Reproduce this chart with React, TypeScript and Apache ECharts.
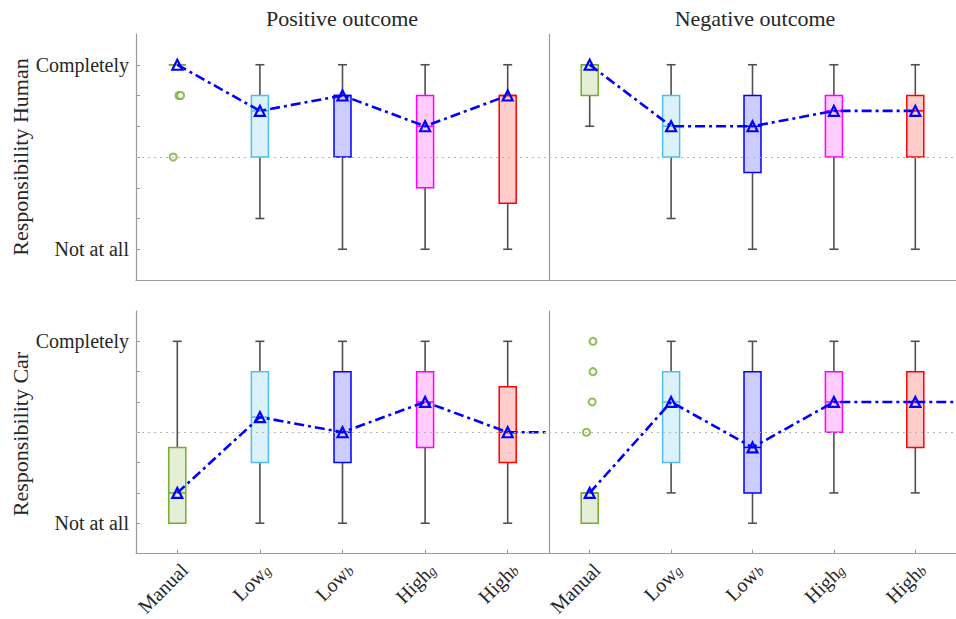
import React, { useEffect, useRef } from "react";
import * as echarts from "echarts";

const categories = ["Manual", "Low_g", "Low_b", "High_g", "High_b"];
const boxColors = ["#77AC30", "#4DBEEE", "#0000FF", "#FF00FF", "#FF0000"];
const boxFills = ["#E4EFD6", "#DBF2FC", "#CCCCFF", "#FFCCFF", "#FFCCCC"];

// [min, q1, median, q3, max] per category
const humanPosStats = [
  [7, 7, 7, 7, 7],
  [2, 4, 5.5, 6, 7],
  [1, 4, 6, 6, 7],
  [1, 3, 5, 6, 7],
  [1, 2.5, 6, 6, 7],
];
const humanNegStats = [
  [5, 6, 7, 7, 7],
  [2, 4, 5, 6, 7],
  [1, 3.5, 5, 6, 7],
  [1, 4, 5.5, 6, 7],
  [1, 4, 5.5, 6, 7],
];
const carPosStats = [
  [1, 1, 2, 3.5, 7],
  [1, 3, 4.5, 6, 7],
  [1, 3, 4, 6, 7],
  [1, 3.5, 5, 6, 7],
  [1, 3, 4, 5.5, 7],
];
const carNegStats = [
  [1, 1, 2, 2, 2],
  [2, 3, 5, 6, 7],
  [1, 2, 3.5, 6, 7],
  [2, 4, 5, 6, 7],
  [2, 3.5, 5, 6, 7],
];

// outliers [x position (category 1..5, jittered), value]
const humanPosOutliers = [[1.02, 6], [1.04, 6], [0.95, 4]];
const humanNegOutliers: number[][] = [];
const carPosOutliers: number[][] = [];
const carNegOutliers = [[1.04, 7], [1.04, 6], [1.03, 5], [0.96, 4]];

// continuation of the median line past the last category
const humanPosTail: number[][] = [];
const humanNegTail: number[][] = [];
const carPosTail = [[5, 4], [5.5, 4]];
const carNegTail = [[5, 5], [5.5, 5]];

const colTitles = ["Positive outcome", "Negative outcome"];
const rowTitles = ["Responsibility Human", "Responsibility Car"];
const yTickLabels: Record<number, string> = { 7: "Completely", 1: "Not at all" };

const FONT = "'Liberation Serif', 'Times New Roman', serif";

const panels = [
  { stats: humanPosStats, outliers: humanPosOutliers, tail: humanPosTail },
  { stats: humanNegStats, outliers: humanNegOutliers, tail: humanNegTail },
  { stats: carPosStats, outliers: carPosOutliers, tail: carPosTail },
  { stats: carNegStats, outliers: carNegOutliers, tail: carNegTail },
];

const grids = [
  { left: 136, top: 34, width: 413, height: 246 },
  { left: 549, top: 34, width: 413, height: 246 },
  { left: 136, top: 311, width: 413, height: 246 },
  { left: 549, top: 311, width: 413, height: 246 },
];

function renderBox(params: any, api: any) {
  const idx = api.value(0);
  const mn = api.value(1);
  const q1 = api.value(2);
  const md = api.value(3);
  const q3 = api.value(4);
  const mx = api.value(5);
  const cx = api.coord([idx, md])[0];
  const y = (v: number) => api.coord([idx, v])[1];
  const bw = 17;
  const cw = 9;
  const color = boxColors[params.dataIndex];
  const fill = boxFills[params.dataIndex];
  const wStyle = { stroke: "#505050", lineWidth: 1.6 };
  const children: any[] = [];
  if (mx > q3) {
    children.push({ type: "line", shape: { x1: cx, y1: y(q3), x2: cx, y2: y(mx) }, style: wStyle });
    children.push({ type: "line", shape: { x1: cx - cw / 2, y1: y(mx), x2: cx + cw / 2, y2: y(mx) }, style: wStyle });
  }
  if (mn < q1) {
    children.push({ type: "line", shape: { x1: cx, y1: y(q1), x2: cx, y2: y(mn) }, style: wStyle });
    children.push({ type: "line", shape: { x1: cx - cw / 2, y1: y(mn), x2: cx + cw / 2, y2: y(mn) }, style: wStyle });
  }
  children.push({
    type: "rect",
    shape: { x: cx - bw / 2, y: y(q3), width: bw, height: y(q1) - y(q3) },
    style: { fill, stroke: color, lineWidth: 1.5 },
  });
  children.push({
    type: "line",
    shape: { x1: cx - bw / 2, y1: y(md), x2: cx + bw / 2, y2: y(md) },
    style: { stroke: color, lineWidth: 1.5 },
  });
  return { type: "group", children };
}

function labelFormatter(v: string) {
  const parts = v.split("_");
  if (parts.length === 2) return `{n|${parts[0]}}{s|${parts[1]}}`;
  return `{n|${v}}`;
}

export default function App() {
  const ref = useRef<HTMLDivElement>(null);
  useEffect(() => {
    if (!ref.current) return;
    const chart = echarts.init(ref.current, null, { renderer: "svg" });
    const xAxis: any[] = [];
    const yAxis: any[] = [];
    const series: any[] = [];
    grids.forEach((_, g) => {
      const isBottom = g >= 2;
      const isLeft = g % 2 === 0;
      xAxis.push({
        type: "category",
        gridIndex: g,
        data: categories,
        axisLine: { lineStyle: { color: "#9a9a9a", width: 1.2 } },
        axisTick: { show: isBottom, inside: true, alignWithLabel: true, length: 4, lineStyle: { color: "#9a9a9a" } },
        axisLabel: isBottom
          ? {
              show: true,
              rotate: 45,
              align: "right",
              verticalAlign: "top",
              margin: 6,
              formatter: labelFormatter,
              rich: {
                n: { fontFamily: FONT, fontSize: 20, color: "#262626", lineHeight: 20, verticalAlign: "top" },
                s: { fontFamily: FONT, fontSize: 14, fontStyle: "italic", color: "#262626", lineHeight: 14, verticalAlign: "bottom" },
              },
            }
          : { show: false },
        splitLine: { show: false },
      });
      xAxis.push({ type: "value", gridIndex: g, min: 0.5, max: 5.5, show: false });
      yAxis.push({
        type: "value",
        gridIndex: g,
        min: 0,
        max: 8,
        axisLine: { show: true, lineStyle: { color: "#9a9a9a", width: 1.2 } },
        axisTick: {
          show: isLeft,
          inside: true,
          length: 4,
          customValues: [1, 2, 3, 4, 5, 6, 7],
          lineStyle: { color: "#9a9a9a" },
        },
        axisLabel: isLeft
          ? {
              show: true,
              customValues: [1, 7],
              margin: 7,
              fontFamily: FONT,
              fontSize: 20,
              color: "#262626",
              formatter: (v: number) => yTickLabels[v] || "",
            }
          : { show: false },
        splitLine: { show: false },
      });
      const p = panels[g];
      // reference dotted line
      series.push({
        type: "line",
        xAxisIndex: 2 * g + 1,
        yAxisIndex: g,
        data: [],
        z: 1,
        markLine: {
          silent: true,
          symbol: ["none", "none"],
          label: { show: false },
          lineStyle: { color: "#b5b5b5", type: [2, 4], width: 1 },
          data: [{ yAxis: 4 }],
        },
      });
      series.push({
        type: "custom",
        xAxisIndex: 2 * g,
        yAxisIndex: g,
        renderItem: renderBox,
        encode: { x: 0, y: [1, 2, 3, 4, 5] },
        data: p.stats.map((s, i) => [i, ...s]),
        z: 2,
      });
      series.push({
        type: "scatter",
        xAxisIndex: 2 * g + 1,
        yAxisIndex: g,
        data: p.outliers,
        symbol: "emptyCircle",
        symbolSize: 7,
        itemStyle: { color: "#77AC30", borderWidth: 1.5 },
        z: 3,
      });
      const dash = [10, 4, 3, 4];
      series.push({
        type: "line",
        xAxisIndex: 2 * g + 1,
        yAxisIndex: g,
        data: p.tail,
        symbol: "none",
        lineStyle: { color: "#0000FF", width: 2.6, type: dash },
        z: 4,
      });
      series.push({
        type: "line",
        xAxisIndex: 2 * g + 1,
        yAxisIndex: g,
        data: p.stats.map((s, i) => [i + 1, s[2]]),
        symbol: "triangle",
        symbolSize: 10,
        itemStyle: { color: "rgba(0,0,0,0)", borderColor: "#0000FF", borderWidth: 2.2 },
        lineStyle: { color: "#0000FF", width: 2.6, type: dash },
        z: 5,
      });
    });

    const graphic: any[] = [
      ...colTitles.map((t, i) => ({
        type: "text",
        x: i === 0 ? 342 : 755,
        y: 18,
        style: { text: t, font: `22px ${FONT}`, fill: "#262626", align: "center", verticalAlign: "middle" },
      })),
      ...rowTitles.map((t, i) => ({
        type: "text",
        x: 20,
        y: i === 0 ? 157 : 434,
        rotation: Math.PI / 2,
        style: { text: t, font: `22px ${FONT}`, fill: "#262626", align: "center", verticalAlign: "middle" },
      })),
    ];

    chart.setOption({
      animation: false,
      backgroundColor: "#ffffff",
      grid: grids.map((g) => ({ ...g, containLabel: false })),
      xAxis,
      yAxis,
      series,
      graphic,
    });
    return () => chart.dispose();
  }, []);
  return (
    <div
      ref={ref}
      style={{ position: "fixed", left: 0, top: 0, width: 956, height: 619, background: "#fff" }}
    />
  );
}
